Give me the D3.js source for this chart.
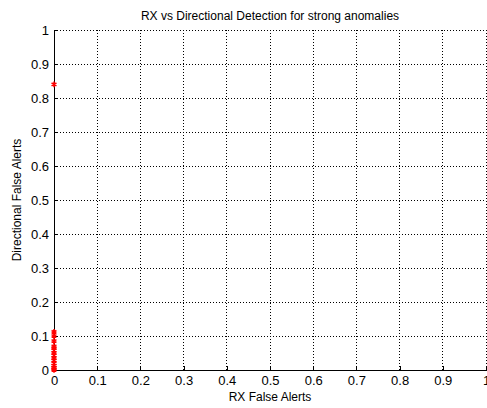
<!DOCTYPE html>
<html><head><meta charset="utf-8">
<script src="https://cdn.jsdelivr.net/npm/d3@7"></script>
<style>body{margin:0;background:#fff}svg{display:block}text{font-family:"Liberation Sans",Arial,sans-serif;fill:#000}</style>
</head><body><svg id="c" width="487" height="408"></svg>
<script>
const title = "RX vs Directional Detection for strong anomalies";
const xLabel = "RX False Alerts";
const yLabel = "Directional False Alerts";
const xTicks = [0,0.1,0.2,0.3,0.4,0.5,0.6,0.7,0.8,0.9,1];
const yTicks = [0,0.1,0.2,0.3,0.4,0.5,0.6,0.7,0.8,0.9,1];
const rxVals = [0,0,0,0,0,0,0,0,0,0,0,0,0,0,0,0];
const dirVals = [0.84,0.112,0.1,0.085,0.07,0.065,0.058,0.05,0.043,0.035,0.028,0.02,0.013,0.007,0.003,0];

const svg = d3.select("#c");
const L=54,R=486,T=30,B=370;
const x = d3.scaleLinear().domain([0,1]).range([L,R]);
const y = d3.scaleLinear().domain([0,1]).range([B,T]);

// grid
const g = svg.append("g");
g.selectAll(".gx").data(xTicks.slice(1)).join("line")
 .attr("x1",d=>x(d)).attr("x2",d=>x(d)).attr("y1",T).attr("y2",B)
 .attr("stroke","#000").attr("stroke-width",1).attr("stroke-dasharray","1,2").attr("shape-rendering","crispEdges");
g.selectAll(".gy").data(yTicks.slice(1)).join("line")
 .attr("y1",d=>y(d)).attr("y2",d=>y(d)).attr("x1",L).attr("x2",R)
 .attr("stroke","#000").attr("stroke-width",1).attr("stroke-dasharray","1,2").attr("shape-rendering","crispEdges");

// axes
const xa = svg.append("g").attr("transform",`translate(0,${B})`)
 .call(d3.axisBottom(x).tickValues(xTicks).tickFormat(d3.format("")).tickSizeInner(-4).tickSizeOuter(0).tickPadding(6));
const ya = svg.append("g").attr("transform",`translate(${L},0)`)
 .call(d3.axisLeft(y).tickValues(yTicks).tickFormat(d3.format("")).tickSizeInner(-4).tickSizeOuter(0).tickPadding(5));
[xa,ya].forEach(a=>{a.selectAll("text").attr("font-size",13).attr("font-family","Liberation Sans,Arial,sans-serif").attr("fill","#000");
 a.select(".domain").attr("stroke","#000").attr("shape-rendering","crispEdges");
 a.selectAll(".tick line").attr("stroke","#000").attr("shape-rendering","crispEdges");});

// points
const sym = d3.symbol().type(d3.symbolAsterisk).size(22);
svg.append("g").selectAll("path").data(dirVals).join("path")
 .attr("transform",(d,i)=>`translate(${x(rxVals[i])},${y(d)})`)
 .attr("d",sym).attr("fill","none").attr("stroke","#ff0000").attr("stroke-width",1.5);

svg.append("text").attr("x",270).attr("y",20).attr("text-anchor","middle").attr("font-size",12).text(title);
svg.append("text").attr("x",270).attr("y",401).attr("text-anchor","middle").attr("font-size",12).text(xLabel);
svg.append("text").attr("transform","translate(21,200) rotate(-90)").attr("text-anchor","middle").attr("font-size",12).text(yLabel);
</script></body></html>
